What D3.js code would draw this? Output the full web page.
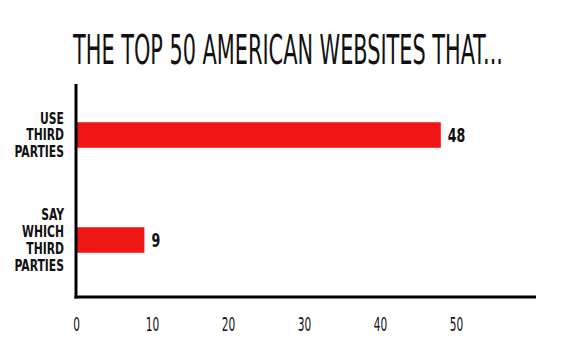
<!DOCTYPE html>
<html>
<head>
<meta charset="utf-8">
<script src="https://cdn.jsdelivr.net/npm/d3@7"></script>
<style>
  body { margin: 0; background: #fff; }
  svg { display: block; }
</style>
</head>
<body>
<div id="chart"></div>
<script>
// data
var categories = ['USE THIRD PARTIES', 'SAY WHICH THIRD PARTIES'];
var values = [48, 9];
var tickValues = [0, 10, 20, 30, 40, 50];
var title = 'THE TOP 50 AMERICAN WEBSITES THAT...';

var width = 570, height = 352;
var font = '"DejaVu Sans Condensed", "Liberation Sans Narrow", sans-serif';

var svg = d3.select('#chart').append('svg')
  .attr('width', width)
  .attr('height', height);

var x = d3.scaleLinear()
  .domain([0, 60])
  .range([76, 532]);

var y = d3.scaleBand()
  .domain(categories)
  .range([82.5, 292.5])
  .paddingInner(0.757)
  .paddingOuter(0.3785);

// title, squeezed sideways to the reference width
var titleG = svg.append('g');
var titleText = titleG.append('text')
  .attr('text-anchor', 'middle')
  .style('font-family', font)
  .style('font-size', '40px')
  .style('fill', '#111')
  .text(title);
var tw = titleText.node().getComputedTextLength();
titleG.attr('transform', 'translate(288,64) scale(' + (430 / tw) + ',1)');

// bars
svg.selectAll('rect.bar')
  .data(values)
  .enter().append('rect')
  .attr('class', 'bar')
  .attr('x', x(0))
  .attr('y', function(d, i) { return y(categories[i]); })
  .attr('width', function(d) { return x(d) - x(0); })
  .attr('height', y.bandwidth())
  .style('fill', '#f01616');

// value labels
svg.selectAll('g.value')
  .data(values)
  .enter().append('g')
  .attr('class', 'value')
  .attr('transform', function(d, i) {
    return 'translate(' + (x(d) + 7) + ',' + (y(categories[i]) + y.bandwidth() / 2 + 7) + ') scale(0.74,1)';
  })
  .append('text')
  .style('font-family', font)
  .style('font-weight', 'bold')
  .style('font-size', '19px')
  .style('fill', '#111')
  .text(function(d) { return d; });

// category labels, one word per line
var lineH = 16.8;
var labels = svg.selectAll('g.cat')
  .data(categories)
  .enter().append('g')
  .attr('class', 'cat')
  .attr('transform', function(d) {
    var n = d.split(' ').length;
    var top = y(d) + y.bandwidth() / 2 - (n - 1) * lineH / 2 + 5.5;
    return 'translate(64,' + top + ') scale(0.8,1)';
  });

labels.append('text')
  .attr('text-anchor', 'end')
  .style('font-family', font)
  .style('font-weight', 'bold')
  .style('font-size', '15px')
  .style('fill', '#111')
  .selectAll('tspan')
  .data(function(d) { return d.split(' '); })
  .enter().append('tspan')
  .attr('x', 0)
  .attr('dy', function(d, i) { return i === 0 ? 0 : lineH; })
  .text(function(d) { return d; });

// x axis labels
var xAxis = svg.append('g')
  .attr('transform', 'translate(0,317)')
  .call(d3.axisBottom(x).tickValues(tickValues).tickSize(0).tickPadding(0));

xAxis.select('.domain').remove();
xAxis.selectAll('text')
  .attr('dy', '0.71em')
  .attr('transform', 'scale(0.62,1)')
  .style('font-family', font)
  .style('font-size', '19px')
  .style('fill', '#111');

// axis lines
svg.append('line')
  .attr('x1', x(0)).attr('x2', x(0))
  .attr('y1', 84).attr('y2', 298.5)
  .style('stroke', '#000')
  .style('stroke-width', 3);

svg.append('line')
  .attr('x1', x(0) - 1.5).attr('x2', 536)
  .attr('y1', 297).attr('y2', 297)
  .style('stroke', '#000')
  .style('stroke-width', 3);
</script>
</body>
</html>
